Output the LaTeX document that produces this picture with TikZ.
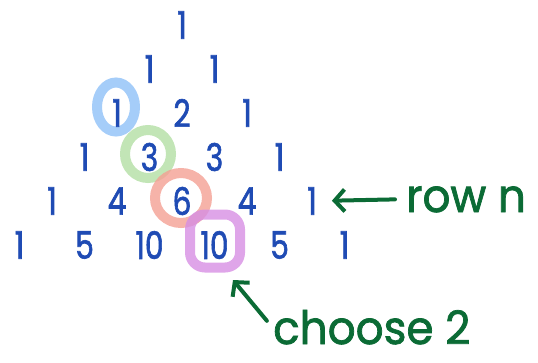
\documentclass[tikz,border=0pt]{standalone}
\usepackage{fontspec}
\newfontfamily\hand{Poppins}[FakeStretch=0.78, FakeBold=1.6]
\newfontfamily\notehand{Poppins}[FakeStretch=0.95, FakeBold=1.6]
\usetikzlibrary{arrows.meta,positioning,calc,shapes.geometric}
\definecolor{digit}{HTML}{1F4BB4}
\definecolor{ink}{HTML}{0B6B35}
\definecolor{ringblue}{HTML}{8EC0F8}
\definecolor{ringgreen}{HTML}{B3DEA4}
\definecolor{ringred}{HTML}{F4A094}
\definecolor{ringpurple}{HTML}{D78FE3}

\begin{document}
\begin{tikzpicture}[
  x=1pt, y=-1pt,
  num/.style={text=digit, font=\hand\fontsize{38}{38}\selectfont, inner sep=1pt},
  ring/.style={draw=#1, line width=10pt, opacity=.8, inner sep=0pt},
  note/.style={text=ink, font=\notehand\fontsize{46}{46}\selectfont,
    inner sep=1pt, text depth=0pt},
  pointer/.style={-{Straight Barb[length=10pt,width=22pt]}, draw=ink,
    line width=4pt, line cap=round}
]
  \useasboundingbox (0,0) rectangle (538,362);

  % Highlight rings (behind the numbers)
  \node[ring=ringblue, ellipse, minimum width=38, minimum height=49] (ring1) at (116,107) {};
  \node[ring=ringgreen, ellipse, minimum width=46, minimum height=48] (ring3) at (148,154) {};
  \node[ring=ringred, ellipse, minimum width=52, minimum height=50] (ring6) at (181,198) {};
  \node[ring=ringpurple, rectangle, rounded corners=15pt,
        minimum width=50, minimum height=53] (ring10) at (215,241) {};

  % Pascal's triangle, rows 0 to 5
  \foreach \r/\vals in {0/{1}, 1/{1,1}, 2/{1,2,1}, 3/{1,3,3,1},
                        4/{1,4,6,4,1}, 5/{1,5,10,10,5,1}} {
    \foreach \v [count=\k from 0] in \vals
      \node[num] (n-\r-\k) at ({182+(\k-\r/2)*65}, {25+44*\r}) {\v};
  }

  % Annotations
  \node[note, anchor=base west] (rown) at (405,212) {row n};
  \node[note, anchor=base west] (choose) at (272,344) {choose 2};
  \coordinate (chooseTip) at (233,280);

  \draw[pointer, shorten <=10pt, shorten >=14pt] (rown.west) -- (n-4-4.east);
  \draw[pointer, shorten <=8pt] (choose.west) -- (chooseTip);
\end{tikzpicture}
\end{document}
